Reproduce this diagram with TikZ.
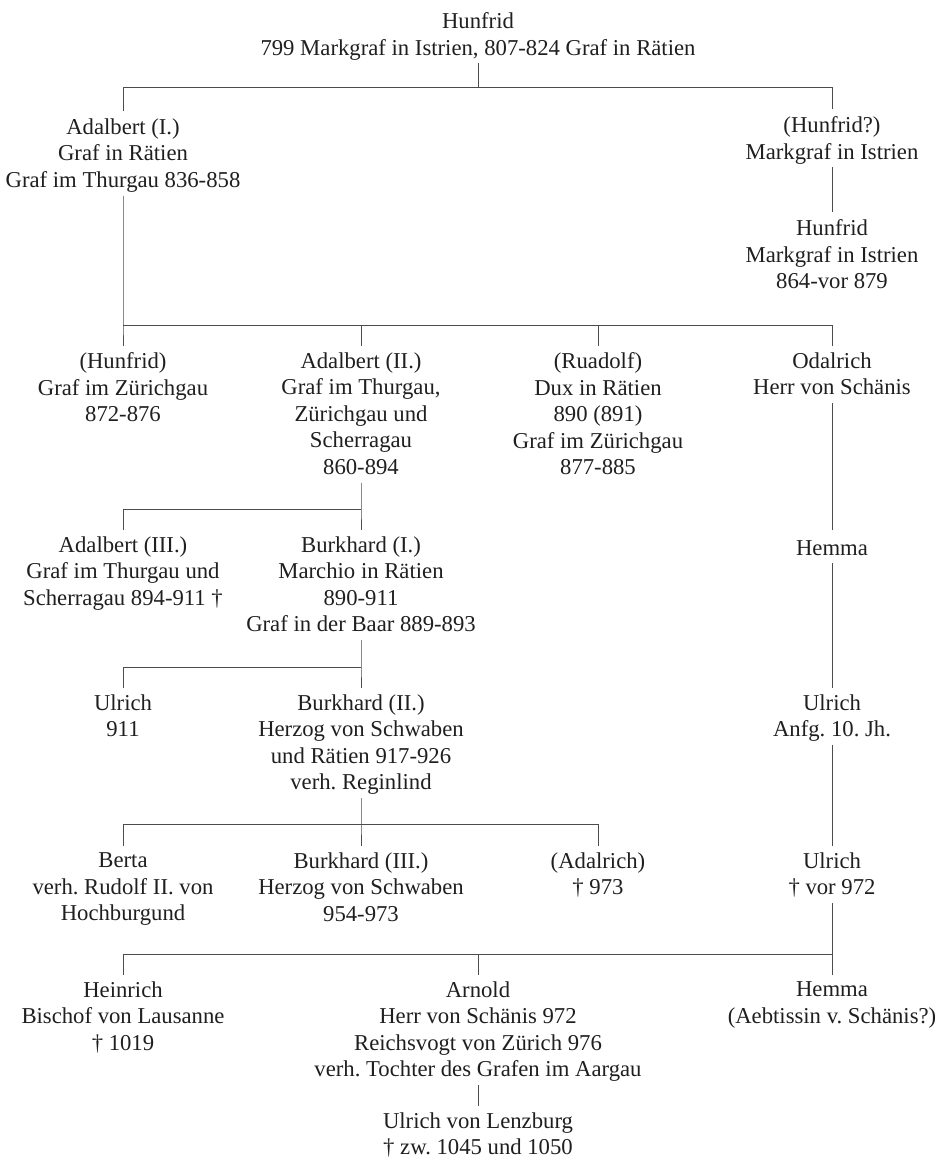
\documentclass[tikz,border=0pt]{standalone}
\usepackage{fontspec}
\setmainfont{Liberation Serif}
\frenchspacing
\begin{document}
\begin{tikzpicture}[x=1pt,y=1pt,
  person/.style={anchor=north, align=center, inner sep=0pt, text=black!88,
    font=\fontsize{22.7pt}{26.5pt}\selectfont\frenchspacing,
    execute at begin node=\strut, execute at end node=\strut},
  link/.style={draw=black!70, line width=1pt}]
\useasboundingbox (0,0) rectangle (941,-1158);
% generation 0
\node[person] (top) at (478,-12.5) {Hunfrid\\799 Markgraf in Istrien, 807-824 Graf in Rätien};
% generation 1
\node[person] (a1) at (123,-118.5) {Adalbert (I.)\\Graf in Rätien\\Graf im Thurgau 836-858};
\node[person] (h2q) at (832,-116.5) {(Hunfrid?)\\Markgraf in Istrien};
\node[person] (h3) at (832,-219.5) {Hunfrid\\Markgraf in Istrien\\864-vor 879};
% generation 2
\node[person] (hz) at (123,-352.5) {(Hunfrid)\\Graf im Zürichgau\\872-876};
\node[person] (a2) at (361,-352.5) {Adalbert (II.)\\Graf im Thurgau,\\Zürichgau und\\Scherragau\\860-894};
\node[person] (ru) at (598,-352.5) {(Ruadolf)\\Dux in Rätien\\890 (891)\\Graf im Zürichgau\\877-885};
\node[person] (od) at (832,-352.5) {Odalrich\\Herr von Schänis};
% generation 3
\node[person] (a3) at (123,-536.5) {Adalbert (III.)\\Graf im Thurgau und\\Scherragau 894-911 †};
\node[person] (b1) at (361,-536.5) {Burkhard (I.)\\Marchio in Rätien\\890-911\\Graf in der Baar 889-893};
\node[person] (hem) at (832,-536.5) {Hemma};
% generation 4
\node[person] (ul) at (123,-694.5) {Ulrich\\911};
\node[person] (b2) at (361,-694.5) {Burkhard (II.)\\Herzog von Schwaben\\und Rätien 917-926\\verh. Reginlind};
\node[person] (ulr1) at (832,-694.5) {Ulrich\\Anfg. 10. Jh.};
% generation 5
\node[person] (be) at (123,-852.5) {Berta\\verh. Rudolf II. von\\Hochburgund};
\node[person] (b3) at (361,-852.5) {Burkhard (III.)\\Herzog von Schwaben\\954-973};
\node[person] (adr) at (598,-852.5) {(Adalrich)\\† 973};
\node[person] (ulr2) at (832,-852.5) {Ulrich\\† vor 972};
% generation 6
\node[person] (hei) at (123,-981.5) {Heinrich\\Bischof von Lausanne\\† 1019};
\node[person] (arn) at (478,-981.5) {Arnold\\Herr von Schänis 972\\Reichsvogt von Zürich 976\\verh. Tochter des Grafen im Aargau};
\node[person] (hem2) at (832,-981.5) {Hemma\\(Aebtissin v. Schänis?)};
% generation 7
\node[person] (ulz) at (478,-1112.5) {Ulrich von Lenzburg\\† zw. 1045 und 1050};

% junctions
\coordinate (j1) at (478,-88);
\coordinate (j2) at (123,-325);
\coordinate (j3) at (361,-509);
\coordinate (j4) at (361,-667);
\coordinate (j5) at (361,-824);
\coordinate (j6) at (832,-954);

% connectors
\draw[link] (top.south) -- (j1);
\draw[link] ([yshift=7pt]a1.north) |- (j1);
\draw[link] ([yshift=7pt]h2q.north) |- (j1);
\draw[link] (h2q.south) -- ([yshift=7pt]h3.north);

\draw[link] (a1.south) -- (j2) -- ([yshift=7pt]hz.north);
\draw[link] (j2) -| ([yshift=7pt]od.north);
\draw[link] ([yshift=7pt]a2.north) -- (a2.north |- j2);
\draw[link] ([yshift=7pt]ru.north) -- (ru.north |- j2);

\draw[link] (a2.south) -- (j3) -- ([yshift=7pt]b1.north);
\draw[link] (j3) -| ([yshift=7pt]a3.north);
\draw[link] (od.south) -- ([yshift=7pt]hem.north);

\draw[link] (b1.south) -- (j4) -- ([yshift=7pt]b2.north);
\draw[link] (j4) -| ([yshift=7pt]ul.north);
\draw[link] (hem.south) -- ([yshift=7pt]ulr1.north);

\draw[link] (b2.south) -- (j5) -- ([yshift=7pt]b3.north);
\draw[link] (j5) -| ([yshift=7pt]be.north);
\draw[link] (j5) -| ([yshift=7pt]adr.north);
\draw[link] (ulr1.south) -- ([yshift=7pt]ulr2.north);

\draw[link] (ulr2.south) -- (j6) -- ([yshift=7pt]hem2.north);
\draw[link] (j6) -| ([yshift=7pt]hei.north);
\draw[link] ([yshift=7pt]arn.north) -- (arn.north |- j6);
\draw[link] (arn.south) -- ([yshift=7pt]ulz.north);
\end{tikzpicture}
\end{document}
